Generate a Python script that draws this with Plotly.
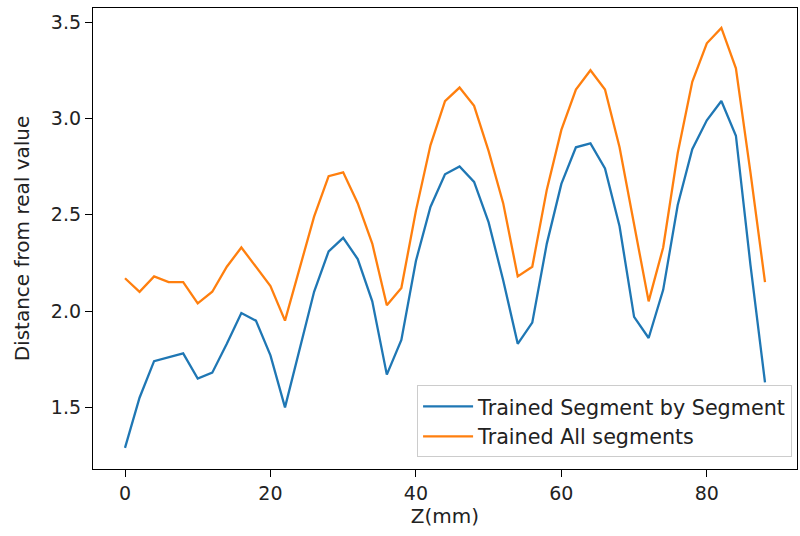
import plotly.graph_objects as go

z_mm = list(range(0, 90, 2))

seg_by_seg = [1.29, 1.55, 1.74, 1.76, 1.78, 1.65, 1.68, 1.83, 1.99, 1.95,
              1.77, 1.50, 1.80, 2.10, 2.31, 2.38, 2.27, 2.05, 1.67, 1.85,
              2.26, 2.54, 2.71, 2.75, 2.67, 2.46, 2.16, 1.83, 1.94, 2.35,
              2.66, 2.85, 2.87, 2.74, 2.44, 1.97, 1.86, 2.11, 2.55, 2.84,
              2.99, 3.09, 2.91, 2.24, 1.63]

all_segments = [2.17, 2.10, 2.18, 2.15, 2.15, 2.04, 2.10, 2.23, 2.33, 2.23,
                2.13, 1.95, 2.22, 2.49, 2.70, 2.72, 2.56, 2.35, 2.03, 2.12,
                2.52, 2.86, 3.09, 3.16, 3.065, 2.83, 2.56, 2.18, 2.23, 2.63,
                2.94, 3.15, 3.25, 3.15, 2.85, 2.44, 2.05, 2.33, 2.82, 3.19,
                3.39, 3.47, 3.26, 2.72, 2.15]

series_names = ["Trained Segment by Segment", "Trained All segments"]
colors = ["#1f77b4", "#ff7f0e"]

x_ticks = [0, 20, 40, 60, 80]
y_ticks = [1.5, 2.0, 2.5, 3.0, 3.5]

fig = go.Figure()
for vals, name, col in zip([seg_by_seg, all_segments], series_names, colors):
    fig.add_trace(go.Scatter(x=z_mm, y=vals, mode="lines", name=name,
                             line=dict(color=col, width=2.3)))

font = "DejaVu Sans, Liberation Sans, sans-serif"
fig.update_layout(
    width=800, height=536,
    margin=dict(l=93, r=3, t=8, b=67),
    paper_bgcolor="white", plot_bgcolor="white",
    font=dict(family=font, size=19, color="#222222"),
    showlegend=True,
    legend=dict(x=0.993, y=0.025, xanchor="right", yanchor="bottom",
                bgcolor="rgba(255,255,255,0.8)", bordercolor="#cccccc",
                borderwidth=1, font=dict(size=20.7, color="#222222"),
                tracegroupgap=0, itemwidth=50),
    xaxis=dict(range=[-4.4, 92.4], tickmode="array", tickvals=x_ticks,
               showgrid=False, zeroline=False, showline=True,
               linecolor="black", linewidth=1.3, mirror=True,
               ticks="outside", ticklen=7, tickcolor="black",
               tickfont=dict(size=19),
               title=dict(text="Z(mm)", standoff=6, font=dict(size=20))),
    yaxis=dict(range=[1.18, 3.573], tickmode="array", tickvals=y_ticks,
               tickformat=".1f",
               showgrid=False, zeroline=False, showline=True,
               linecolor="black", linewidth=1.3, mirror=True,
               ticks="outside", ticklen=7, tickcolor="black",
               tickfont=dict(size=19),
               title=dict(text="Distance from real value", standoff=15,
                          font=dict(size=20))),
)

fig.write_html("out.html")
